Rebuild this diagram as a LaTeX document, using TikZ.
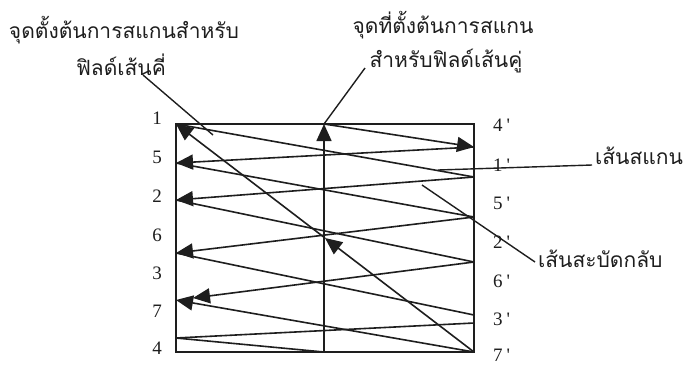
\documentclass[tikz,border=0pt]{standalone}
\usepackage{fontspec}
\setmainfont{Liberation Serif}
\newfontfamily\thaifont[Script=Thai]{Loma}
\usetikzlibrary{arrows.meta,calc}
\definecolor{ink}{HTML}{1E1E1E}
\tikzset{
  x=1pt, y=-1pt,
  lin/.style={draw=ink, line width=1.6pt},
  scanline/.style={lin},
  retline/.style={lin, -{Triangle[length=17pt,width=15pt]}},
  pointer/.style={draw=ink, line width=1.4pt},
  thailbl/.style={inner sep=0pt, font=\thaifont\fontsize{21}{21}\selectfont, text=ink},
  numlbl/.style={inner sep=0pt, font=\fontsize{19}{19}\selectfont, text=ink},
}
\begin{document}
\begin{tikzpicture}
\useasboundingbox[fill=white] (0,0) rectangle (684,365);
% points
\coordinate (L1) at (176,124);
\coordinate (L5) at (176,163);
\coordinate (L2) at (176,200);
\coordinate (L6) at (176,253);
\coordinate (L3) at (176,300);
\coordinate (A3) at (193,298);
\coordinate (L4) at (176,338);
\coordinate (R4) at (474,147);
\coordinate (R1) at (474,177);
\coordinate (R5) at (474,217);
\coordinate (R2) at (474,262);
\coordinate (R6) at (474,315);
\coordinate (R3) at (474,323);
\coordinate (R7) at (474,352);
\coordinate (TM) at (324,124);
\coordinate (BM) at (324,352);
\coordinate (MID) at ($(R7)!0.5!(L1)$);
% frame
\draw[lin] (176,124) rectangle (474,352);
% odd field
\draw[scanline] (L1) -- (R1);
\draw[retline] (R1) -- (L2);
\draw[scanline] (L2) -- (R2);
\draw[retline] (R2) -- (A3);
\draw[scanline] (R3) -- (L4);
\draw[scanline] (L4) -- (BM);
\draw[retline] (BM) -- (TM);
% even field
\draw[retline] (TM) -- (R4);
\draw[retline] (R4) -- (L5);
\draw[scanline] (L5) -- (R5);
\draw[retline] (R5) -- (L6);
\draw[scanline] (L6) -- (R6);
\draw[retline] (R7) -- (L3);
\draw[retline] (R7) -- (MID);
\draw[retline] (MID) -- (L1);
% labels left
\node[numlbl] (n1) at (157,118) {1};
\node[numlbl] (n5) at (157,157) {5};
\node[numlbl] (n2) at (157,196) {2};
\node[numlbl] (n6) at (157,235) {6};
\node[numlbl] (n3) at (157,273) {3};
\node[numlbl] (n7) at (157,311) {7};
\node[numlbl] (n4) at (157,348) {4};
% labels right
\node[numlbl, anchor=west] (m4) at (493,125) {4\hspace{4pt}\textquotesingle};
\node[numlbl, anchor=west] (m1) at (493,165) {1\hspace{4pt}\textquotesingle};
\node[numlbl, anchor=west] (m5) at (493,203) {5\hspace{4pt}\textquotesingle};
\node[numlbl, anchor=west] (m2) at (493,242) {2\hspace{4pt}\textquotesingle};
\node[numlbl, anchor=west] (m6) at (493,281) {6\hspace{4pt}\textquotesingle};
\node[numlbl, anchor=west] (m3) at (493,319) {3\hspace{4pt}\textquotesingle};
\node[numlbl, anchor=west] (m7) at (493,355) {7\hspace{4pt}\textquotesingle};
% Thai labels
\node[thailbl, anchor=base] (t1) at (124,38) {จุดตั้งต้นการสแกนสำหรับ};
\node[thailbl, anchor=base] (t2) at (121,75) {ฟิลด์เส้นคี่};
\node[thailbl, anchor=base] (t3) at (443,33) {จุดที่ตั้งต้นการสแกน};
\node[thailbl, anchor=base] (t4) at (446,67) {สำหรับฟิลด์เส้นคู่};
\node[thailbl, anchor=base west] (t5) at (595,164) {เส้นสแกน};
\node[thailbl, anchor=base west] (t6) at (538,267) {เส้นสะบัดกลับ};
% pointers
\coordinate (p1a) at (143,75);
\coordinate (p1b) at (213,135);
\draw[pointer] (p1a) -- (p1b);
\coordinate (p2a) at (365,68);
\draw[pointer] (p2a) -- (TM);
\coordinate (p3a) at (438,170);
\coordinate (p3b) at (592,165);
\draw[pointer] (p3a) -- (p3b);
\coordinate (p4a) at (422,185);
\coordinate (p4b) at (535,262);
\draw[pointer] (p4a) -- (p4b);
\end{tikzpicture}
\end{document}
